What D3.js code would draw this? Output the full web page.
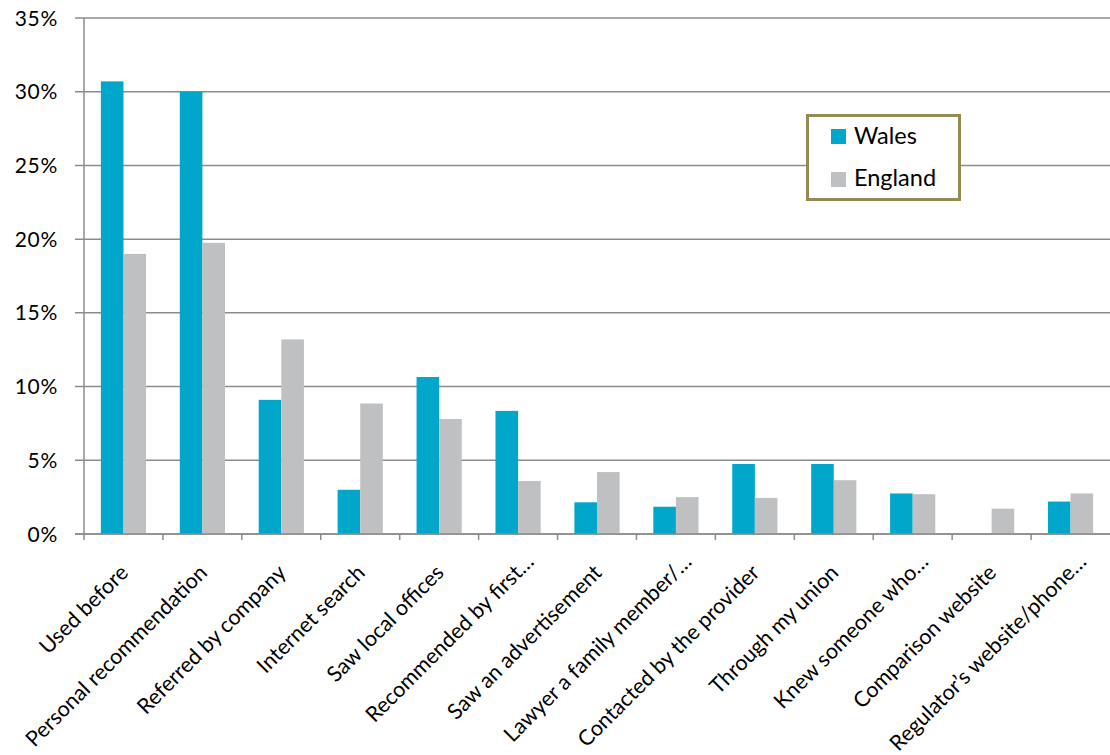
<!DOCTYPE html>
<html><head><meta charset="utf-8">
<script src="https://cdn.jsdelivr.net/npm/d3@7"></script>
<style>body{margin:0;background:#fff}svg{display:block}text{font-family:Lato,"Open Sans",sans-serif;fill:#000}</style>
</head><body>
<svg id="c" width="1110" height="755"></svg>
<script>
const categories = ["Used before","Personal recommendation","Referred by company","Internet search","Saw local offices","Recommended by first\u2026","Saw an advertisement","Lawyer a family member/\u2026","Contacted by the provider","Through my union","Knew someone who\u2026","Comparison website","Regulator\u2019s website/phone\u2026"];
const wales = [30.7,30.0,9.1,3.0,10.65,8.35,2.15,1.85,4.75,4.75,2.75,0,2.2];
const england = [19.0,19.75,13.2,8.85,7.8,3.6,4.2,2.5,2.45,3.65,2.7,1.72,2.75];
const series = ["Wales","England"];
const yTicks = [0,5,10,15,20,25,30,35];
const colors = {Wales:"#00a7cb", England:"#bfc0c2"};

const svg = d3.select("#c");
const L=84, R=1110, T=18, B=534;
const x = d3.scaleBand().domain(categories).range([L,R]).padding(0);
const y = d3.scaleLinear().domain([0,35]).range([B,T]);
const barW = 22.6;
const xs = d3.scaleBand().domain(series).range([0,barW*2]);

// gridlines
svg.append("g").selectAll("line").data(yTicks).join("line")
  .attr("x1",L-9).attr("x2",R).attr("y1",d=>y(d)).attr("y2",d=>y(d))
  .attr("stroke","#8c8c8c").attr("stroke-width",1.5);
// y labels
svg.append("g").selectAll("text").data(yTicks).join("text")
  .attr("x",58).attr("y",d=>y(d)).attr("dy","0.36em").attr("text-anchor","end")
  .attr("font-size",21).attr("letter-spacing",0.7).text(d=>d+"%");

// bars
const data = categories.map((c,i)=>({c, vals:[{s:"Wales",v:wales[i]},{s:"England",v:england[i]}]}));
const g = svg.append("g").selectAll("g").data(data).join("g")
  .attr("transform",d=>`translate(${x(d.c)+x.bandwidth()/2-barW},0)`);
g.selectAll("rect").data(d=>d.vals.filter(e=>e.v>0)).join("rect")
  .attr("x",d=>xs(d.s)).attr("width",xs.bandwidth())
  .attr("y",d=>y(d.v)).attr("height",d=>B-y(d.v))
  .attr("fill",d=>colors[d.s]);

// axes lines
svg.append("line").attr("x1",L).attr("x2",L).attr("y1",T).attr("y2",B+6).attr("stroke","#8c8c8c").attr("stroke-width",1.5);
svg.append("line").attr("x1",L-9).attr("x2",R).attr("y1",B).attr("y2",B).attr("stroke","#8c8c8c").attr("stroke-width",1.5);
svg.append("g").selectAll("line").data(categories.slice(1)).join("line")
  .attr("x1",d=>x(d)).attr("x2",d=>x(d)).attr("y1",B).attr("y2",B+6)
  .attr("stroke","#8c8c8c").attr("stroke-width",1.5);

// category labels
svg.append("g").selectAll("text").data(categories).join("text")
  .attr("transform",d=>{
    const ell = d.endsWith("\u2026");
    const cx = x(d)+x.bandwidth()/2 + (ell?17:6);
    const cy = B + (ell?29:40);
    return `translate(${cx},${cy}) rotate(-45)`;
  })
  .attr("text-anchor","end").attr("font-size",21.5).text(d=>d);

// legend
const lg = svg.append("g");
lg.append("rect").attr("x",807.5).attr("y",115.5).attr("width",152).attr("height",84)
  .attr("fill","#fff").attr("stroke","#948a54").attr("stroke-width",3);
series.forEach((s,i)=>{
  lg.append("rect").attr("x",831).attr("y",129+i*43).attr("width",15).attr("height",15).attr("fill",colors[s]);
  lg.append("text").attr("x",854).attr("y",144+i*42).attr("font-size",23.5).text(s);
});
</script>
</body></html>
